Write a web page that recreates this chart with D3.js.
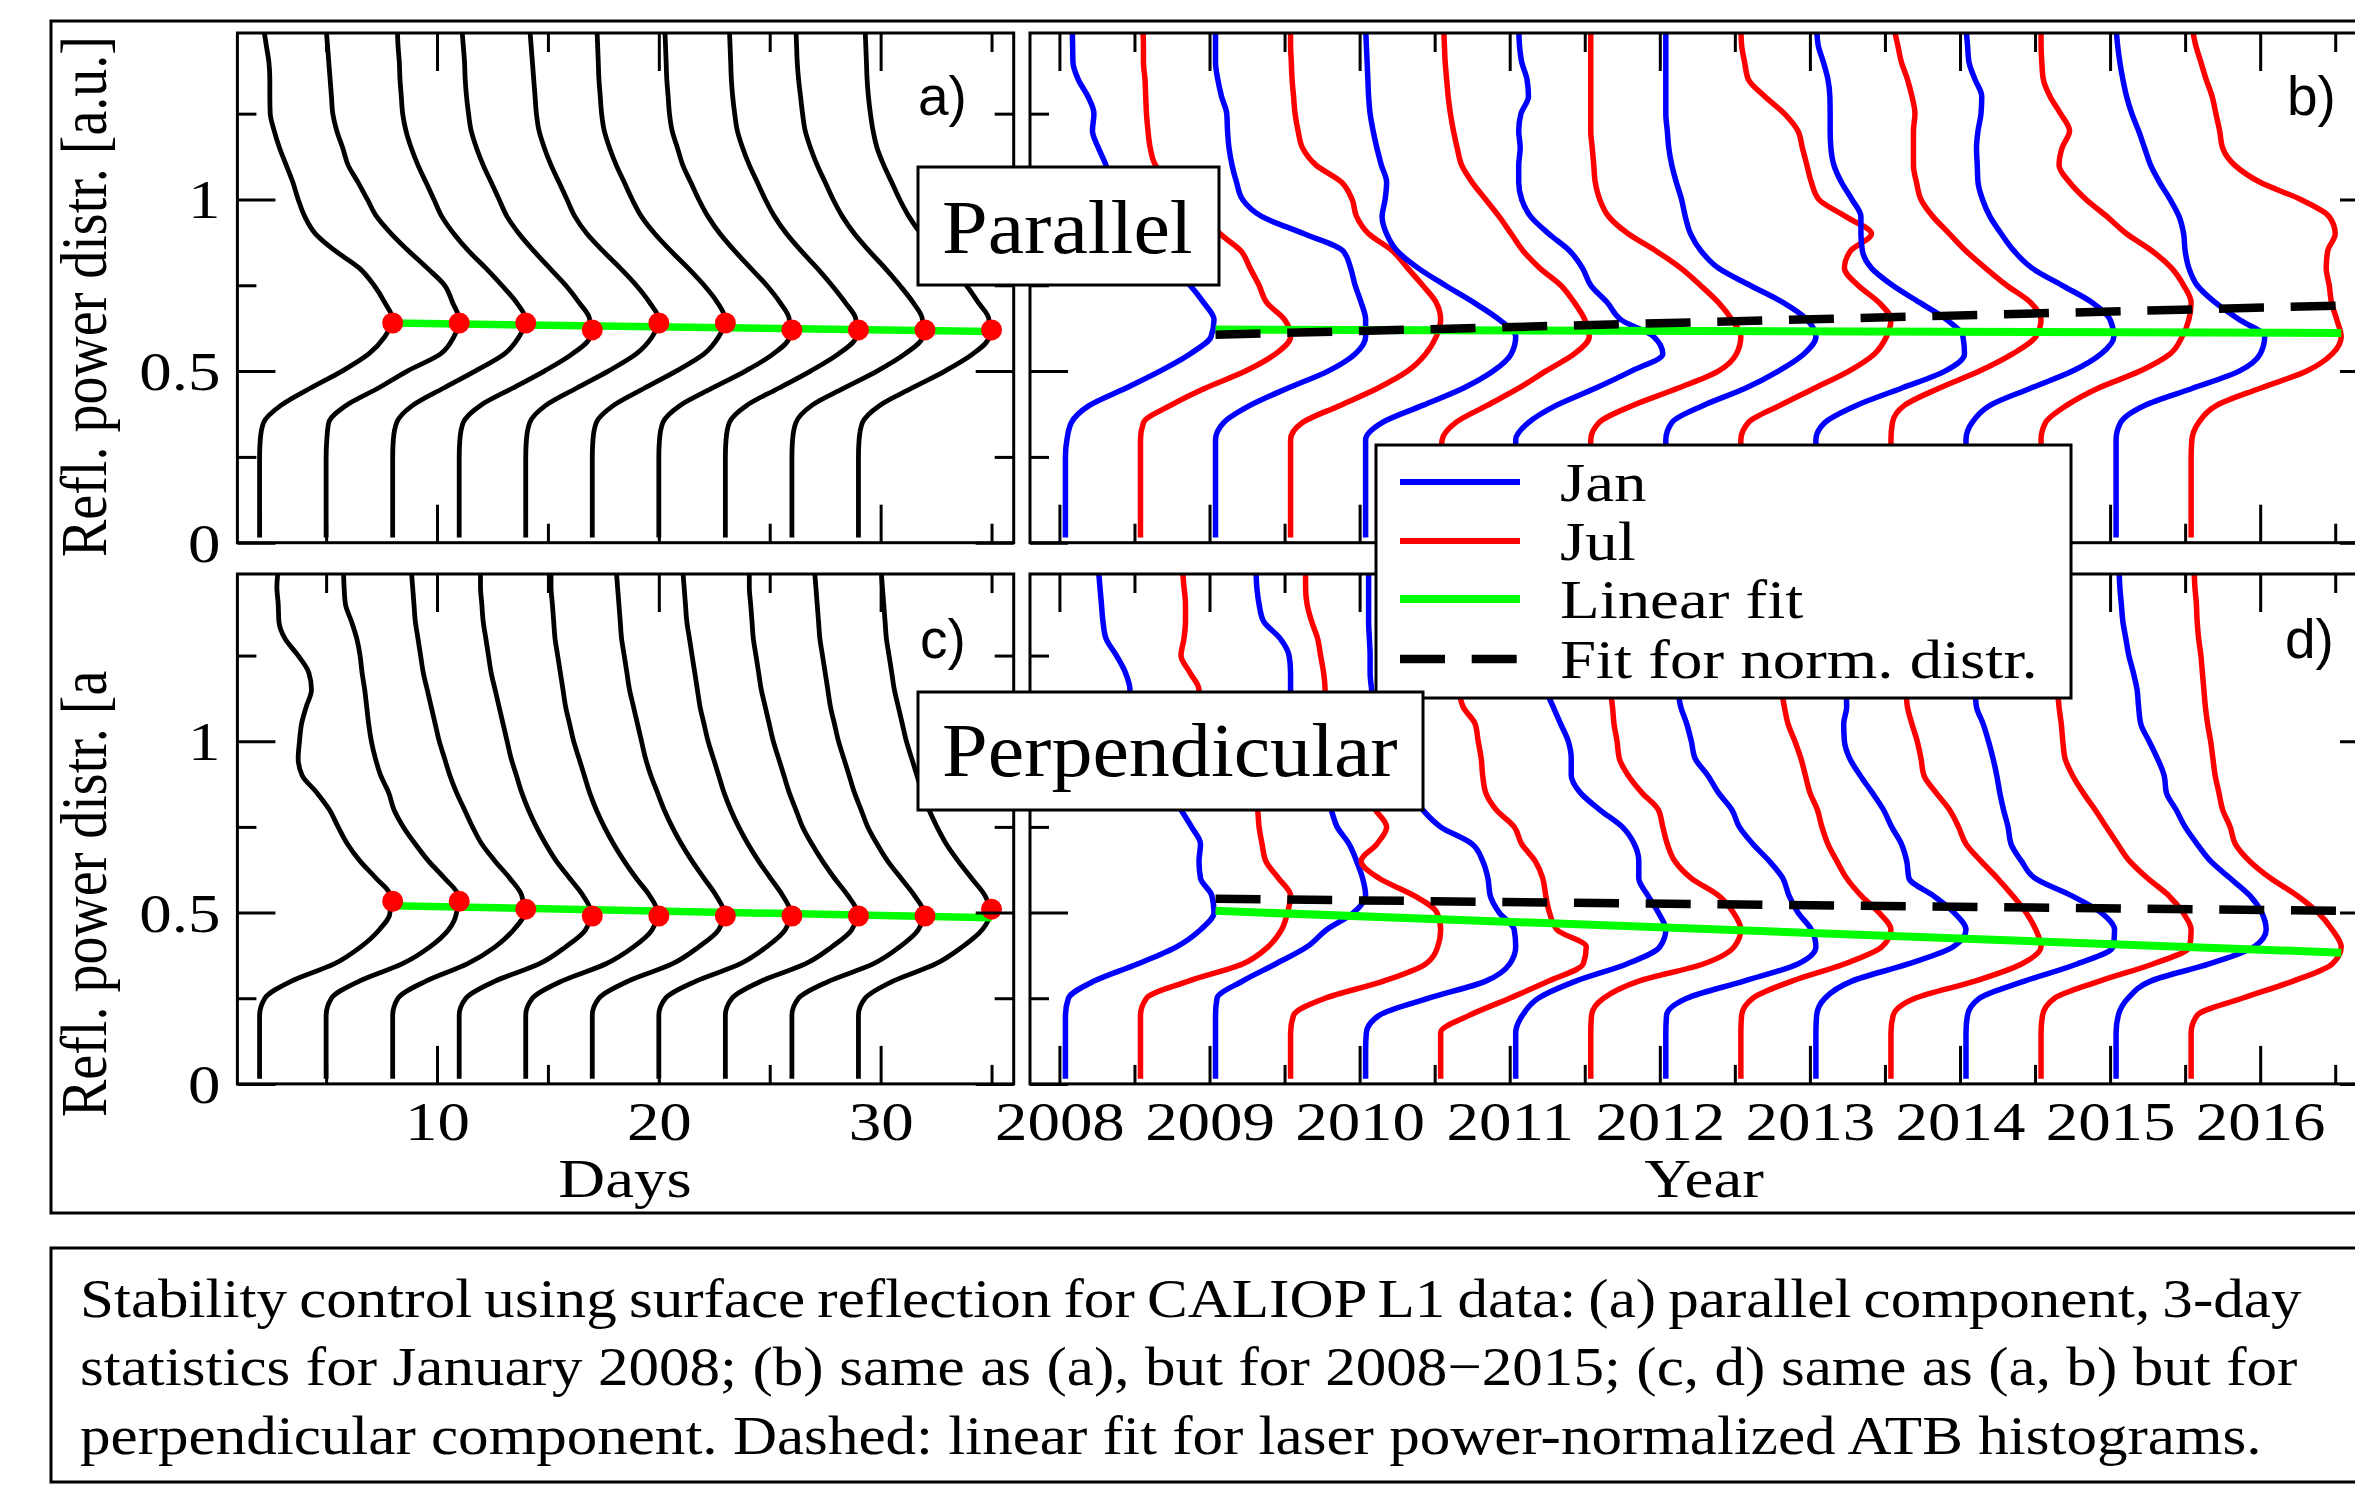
<!DOCTYPE html>
<html>
<head>
<meta charset="utf-8">
<script src="https://cdn.jsdelivr.net/npm/d3@7"></script>
<style>
  html, body { margin: 0; padding: 0; background: #fff; }
  svg { display: block; }
</style>
</head>
<body>
<svg id="fig" width="2355" height="1506"></svg>
<script>
// ---------- data ----------
// reflected-power levels (y) at which every histogram is sampled
const levels = [0.015, 0.05, 0.1, 0.15, 0.2, 0.25, 0.3, 0.35, 0.4, 0.45, 0.5, 0.55, 0.6, 0.65, 0.7, 0.75,
  0.8, 0.85, 0.9, 0.95, 1.0, 1.05, 1.1, 1.15, 1.2, 1.25, 1.3, 1.35, 1.4, 1.45, 1.5];

// 3-day statistics, January 2008: centre day of each window
const windowDays = [2, 5, 8, 11, 14, 17, 20, 23, 26, 29];
// normalised distributions (peak = 1), parallel component
const parallelDays = [
  [0,0,0,0,0,0, 0.005,0.03,0.16,0.38,0.62, 0.82,0.94,1.0,0.94,0.86, 0.75,0.57,0.42,0.34,0.29, 0.25,0.2,0.15,0.11,0.08, 0.077,0.077,0.07,0.05,0.03],
  [0,0,0,0,0,0, 0.005,0.02,0.15,0.39,0.61, 0.86,0.96,1.0,0.95,0.89, 0.76,0.62,0.49,0.38,0.31, 0.24,0.165,0.125,0.08,0.05, 0.04,0.03,0.02,0.01,0],
  [0,0,0,0,0,0, 0.005,0.03,0.15,0.38,0.62, 0.84,0.95,1.0,0.93,0.82, 0.7,0.57,0.46,0.37,0.31, 0.25,0.19,0.14,0.1,0.075, 0.065,0.055,0.05,0.04,0.035],
  [0,0,0,0,0,0, 0.005,0.03,0.16,0.4,0.64, 0.85,0.98,0.98,0.9,0.8, 0.68,0.56,0.45,0.36,0.3, 0.24,0.18,0.13,0.09,0.07, 0.055,0.045,0.04,0.03,0.02],
  [0,0,0,0,0,0, 0.005,0.03,0.15,0.38,0.62, 0.83,0.95,1.0,0.93,0.83, 0.71,0.58,0.46,0.37,0.31, 0.25,0.19,0.14,0.1,0.08, 0.07,0.06,0.05,0.04,0.03],
  [0,0,0,0,0,0, 0.005,0.03,0.16,0.39,0.63, 0.84,0.95,1.0,0.94,0.84, 0.72,0.59,0.47,0.37,0.3, 0.24,0.18,0.13,0.09,0.07, 0.06,0.05,0.045,0.04,0.035],
  [0,0,0,0,0,0, 0.005,0.03,0.16,0.4,0.65, 0.86,0.98,0.98,0.91,0.81, 0.69,0.57,0.46,0.37,0.3, 0.24,0.18,0.14,0.1,0.08, 0.07,0.06,0.055,0.05,0.045],
  [0,0,0,0,0,0, 0.005,0.03,0.16,0.4,0.64, 0.85,0.98,0.98,0.9,0.8, 0.69,0.57,0.46,0.37,0.3, 0.24,0.18,0.13,0.09,0.07, 0.055,0.045,0.04,0.035,0.03],
  [0,0,0,0,0,0, 0.005,0.03,0.15,0.39,0.64, 0.85,0.98,0.98,0.91,0.81, 0.7,0.58,0.47,0.38,0.31, 0.25,0.19,0.14,0.1,0.08, 0.065,0.05,0.04,0.035,0.03],
  [0,0,0,0,0,0, 0.005,0.03,0.16,0.4,0.65, 0.86,0.98,0.98,0.9,0.81, 0.7,0.58,0.47,0.38,0.31, 0.25,0.19,0.14,0.11,0.09, 0.075,0.065,0.06,0.055,0.05]
];
// perpendicular component
const perpDays = [
  [0,0,0,0,0,0.04, 0.24,0.56,0.76,0.9,0.98, 0.98,0.875,0.755,0.66,0.59, 0.525,0.43,0.32,0.29,0.3, 0.315,0.35,0.39,0.37,0.29, 0.19,0.145,0.14,0.13,0.14],
  [0,0,0,0,0,0.04, 0.25,0.57,0.78,0.92,0.98, 0.99,0.89,0.77,0.67,0.58, 0.51,0.47,0.41,0.37,0.34, 0.32,0.305,0.29,0.27,0.255, 0.23,0.19,0.145,0.135,0.13],
  [0,0,0,0,0,0.04, 0.25,0.56,0.77,0.91,0.99, 0.97,0.88,0.77,0.67,0.6, 0.54,0.48,0.43,0.39,0.35, 0.32,0.29,0.26,0.23,0.21, 0.19,0.17,0.16,0.15,0.14],
  [0,0,0,0,0,0.05, 0.27,0.6,0.8,0.95,0.99, 0.93,0.83,0.73,0.65,0.58, 0.52,0.47,0.43,0.39,0.36, 0.33,0.3,0.27,0.24,0.22, 0.2,0.18,0.17,0.16,0.16],
  [0,0,0,0,0,0.05, 0.27,0.6,0.81,0.95,0.99, 0.93,0.83,0.74,0.66,0.59, 0.53,0.48,0.44,0.4,0.36, 0.33,0.3,0.28,0.26,0.24, 0.22,0.21,0.2,0.19,0.19],
  [0,0,0,0,0,0.05, 0.27,0.6,0.8,0.95,0.99, 0.93,0.84,0.75,0.67,0.6, 0.54,0.49,0.44,0.4,0.37, 0.34,0.31,0.28,0.26,0.24, 0.22,0.21,0.2,0.19,0.18],
  [0,0,0,0,0,0.05, 0.28,0.61,0.81,0.95,0.99, 0.93,0.84,0.75,0.67,0.6, 0.54,0.49,0.45,0.41,0.37, 0.34,0.31,0.29,0.27,0.25, 0.23,0.21,0.2,0.19,0.18],
  [0,0,0,0,0,0.05, 0.27,0.6,0.8,0.95,0.99, 0.92,0.82,0.73,0.65,0.58, 0.53,0.48,0.44,0.4,0.36, 0.33,0.3,0.27,0.25,0.23, 0.21,0.2,0.19,0.18,0.18],
  [0,0,0,0,0,0.05, 0.28,0.61,0.81,0.95,0.99, 0.92,0.82,0.72,0.64,0.57, 0.52,0.47,0.43,0.39,0.35, 0.32,0.29,0.27,0.25,0.23, 0.21,0.2,0.19,0.18,0.17],
  [0,0,0,0,0,0.05, 0.26,0.58,0.78,0.93,0.99, 0.95,0.85,0.75,0.66,0.59, 0.53,0.48,0.44,0.4,0.36, 0.33,0.3,0.27,0.25,0.23, 0.21,0.2,0.19,0.18,0.17]
];
// most frequent value of each window, and its linear fit
const peakDays = [8, 11, 14, 17, 20, 23, 26, 29, 32, 35];
const peakParallelDays = [0.64, 0.64, 0.64, 0.62, 0.64, 0.64, 0.62, 0.62, 0.62, 0.62];
const peakPerpDays = [0.533, 0.533, 0.51, 0.49, 0.49, 0.49, 0.49, 0.49, 0.49, 0.51];
const fitDays = [8, 35];
const fitParallelDays = [0.64, 0.615];
const fitPerpDays = [0.52, 0.485];

// monthly statistics 2008-2015 (mid-month positions)
const monthCentres = [2008.04, 2008.54, 2009.04, 2009.54, 2010.04, 2010.54, 2011.04, 2011.54,
  2012.04, 2012.54, 2013.04, 2013.54, 2014.04, 2014.54, 2015.04, 2015.54];
const monthNames = ["Jan", "Jul", "Jan", "Jul", "Jan", "Jul", "Jan", "Jul",
  "Jan", "Jul", "Jan", "Jul", "Jan", "Jul", "Jan", "Jul"];
const parallelYears = [
  [0,0,0,0,0,0, 0.01,0.04,0.16,0.4,0.63, 0.83,0.97,0.99,0.92,0.83, 0.72,0.62,0.52,0.43,0.36, 0.3,0.27,0.22,0.18,0.19, 0.15,0.085,0.05,0.048,0.045],
  [0,0,0,0,0,0, 0,0.02,0.2,0.43,0.7, 0.9,1.0,0.96,0.84,0.79, 0.73,0.67,0.53,0.43,0.33, 0.2,0.1,0.065,0.05,0.04, 0.035,0.03,0.02,0.02,0.015],
  [0,0,0,0,0,0, 0,0.055,0.23,0.48,0.75, 0.93,1.0,1.0,0.97,0.93, 0.9,0.85,0.59,0.31,0.18, 0.14,0.11,0.09,0.08,0.075, 0.04,0.015,0,0,0],
  [0,0,0,0,0,0, 0,0.08,0.33,0.58,0.78, 0.9,0.97,1.0,0.97,0.88, 0.78,0.68,0.52,0.44,0.41, 0.34,0.17,0.08,0.05,0.03, 0.02,0.01,0.005,0,0],
  [0,0,0,0,0,0, 0,0.11,0.38,0.65,0.85, 0.97,1.0,0.89,0.72,0.53, 0.35,0.21,0.14,0.11,0.13, 0.14,0.105,0.075,0.05,0.03, 0.02,0.015,0.01,0.005,0],
  [0,0,0,0,0,0, 0.01,0.1,0.31,0.52,0.7, 0.89,0.99,0.96,0.89,0.8, 0.66,0.55,0.47,0.39,0.3, 0.21,0.14,0.11,0.085,0.065, 0.05,0.04,0.03,0.025,0.02],
  [0,0,0,0,0,0, 0,0.085,0.27,0.53,0.77, 0.98,0.92,0.7,0.61,0.5, 0.445,0.36,0.22,0.1,0.04, 0.02,0.02,0.03,0.02,0.035, 0.085,0.075,0.04,0.025,0.02],
  [0,0,0,0,0,0, 0,0.055,0.28,0.58,0.85, 0.97,1.0,0.94,0.85,0.73, 0.6,0.435,0.25,0.12,0.06, 0.03,0.02,0.01,0,0, 0,0,0,0,0],
  [0,0,0,0,0,0, 0,0.04,0.25,0.53,0.75, 0.92,1.0,0.94,0.78,0.56, 0.35,0.235,0.165,0.13,0.105, 0.07,0.04,0.02,0.01,0, 0,0,0,0,0],
  [0,0,0,0,0,0, 0,0.05,0.26,0.49,0.72, 0.89,0.97,1.0,0.92,0.78, 0.69,0.73,0.87,0.7,0.52, 0.47,0.44,0.41,0.38,0.29, 0.16,0.05,0.025,0.005,0],
  [0,0,0,0,0,0, 0,0.06,0.27,0.57,0.86, 0.99,0.98,0.87,0.69,0.51, 0.37,0.31,0.3,0.3,0.24, 0.17,0.12,0.1,0.095,0.095, 0.093,0.08,0.05,0.015,0.005],
  [0,0,0,0,0,0, 0,0.01,0.09,0.32,0.59, 0.81,0.965,1.0,0.93,0.77, 0.63,0.5,0.39,0.28,0.2, 0.17,0.15,0.15,0.15,0.16, 0.14,0.11,0.07,0.045,0.02],
  [0,0,0,0,0,0, 0,0.04,0.16,0.43,0.71, 0.9,0.985,0.96,0.84,0.64, 0.44,0.32,0.235,0.16,0.11, 0.08,0.075,0.07,0.08,0.1, 0.105,0.06,0.02,0.01,0],
  [0,0,0,0,0,0, 0,0.03,0.17,0.38,0.66, 0.86,0.94,0.985,1.0,0.95, 0.87,0.74,0.57,0.44,0.3, 0.19,0.12,0.14,0.19,0.13, 0.06,0.015,0.005,0,0],
  [0,0,0,0,0,0, 0,0.03,0.19,0.51,0.82, 0.96,0.99,0.82,0.66,0.54, 0.485,0.46,0.45,0.42,0.36, 0.29,0.23,0.19,0.15,0.105, 0.07,0.045,0.025,0.01,0],
  [0,0,0,0,0,0, 0.005,0.05,0.17,0.46,0.77, 0.94,1.0,0.97,0.935,0.92, 0.9,0.91,0.96,0.92,0.73, 0.46,0.29,0.21,0.19,0.165, 0.14,0.1,0.065,0.03,0.007]
];
const perpYears = [
  [0,0,0,0,0,0.02, 0.19,0.48,0.74,0.9,0.99, 0.975,0.9,0.89,0.9,0.84, 0.77,0.7,0.62,0.55,0.49, 0.44,0.41,0.43,0.4,0.34, 0.27,0.25,0.24,0.23,0.22],
  [0,0,0,0,0,0.04, 0.32,0.68,0.85,0.94,0.98, 1.0,0.92,0.835,0.81,0.79, 0.78,0.72,0.65,0.55,0.46, 0.4,0.37,0.39,0.33,0.27, 0.29,0.3,0.3,0.29,0.28],
  [0,0,0,0,0,0.01, 0.18,0.4,0.61,0.74,0.92, 1.0,0.98,0.94,0.89,0.81, 0.77,0.72,0.66,0.6,0.56, 0.53,0.51,0.5,0.5,0.49, 0.43,0.32,0.29,0.275,0.27],
  [0,0,0,0,0.02,0.23, 0.62,0.9,0.98,1.0,0.975, 0.82,0.59,0.47,0.575,0.64, 0.565,0.5,0.42,0.35,0.3, 0.26,0.23,0.23,0.22,0.2, 0.18,0.14,0.11,0.1,0.1],
  [0,0,0,0.005,0.09,0.42, 0.8,0.96,1.0,0.99,0.89, 0.83,0.815,0.78,0.71,0.5, 0.38,0.3,0.22,0.16,0.12, 0.08,0.05,0.04,0.03,0.03, 0.025,0.02,0.02,0.02,0.02],
  [0,0,0,0,0.19,0.46, 0.72,0.95,0.97,0.775,0.725, 0.7,0.68,0.63,0.54,0.49, 0.37,0.3,0.28,0.27,0.25, 0.23,0.15,0.12,0.1,0.08, 0.06,0.05,0.04,0.03,0.03],
  [0,0,0,0,0.045,0.15, 0.4,0.74,0.96,1.0,0.95, 0.88,0.82,0.82,0.79,0.71, 0.56,0.43,0.37,0.37,0.35, 0.3,0.25,0.2,0.16,0.13, 0.1,0.08,0.07,0.06,0.05],
  [0,0,0,0,0.005,0.085, 0.32,0.75,0.955,1.0,0.95, 0.85,0.67,0.56,0.51,0.48, 0.45,0.34,0.25,0.19,0.175, 0.155,0.145,0.13,0.12,0.11, 0.09,0.08,0.07,0.06,0.05],
  [0,0,0,0,0.005,0.14, 0.52,0.88,1.0,0.97,0.88, 0.82,0.78,0.69,0.58,0.49, 0.44,0.35,0.28,0.195,0.17, 0.14,0.1,0.08,0.07,0.06, 0.05,0.04,0.04,0.03,0.03],
  [0,0,0,0,0.005,0.08, 0.34,0.69,0.94,1.0,0.92, 0.8,0.705,0.64,0.58,0.54, 0.51,0.46,0.43,0.4,0.36, 0.315,0.29,0.27,0.25,0.22, 0.2,0.18,0.16,0.15,0.14],
  [0,0,0,0,0.005,0.06, 0.24,0.615,0.915,1.0,0.92, 0.78,0.62,0.605,0.57,0.505, 0.45,0.375,0.295,0.225,0.19, 0.185,0.205,0.2,0.18,0.16, 0.14,0.12,0.1,0.09,0.08],
  [0,0,0,0,0.015,0.16, 0.56,0.87,1.0,0.965,0.9, 0.81,0.71,0.6,0.5,0.45, 0.39,0.3,0.22,0.2,0.175, 0.14,0.11,0.1,0.09,0.08, 0.07,0.06,0.05,0.05,0.04],
  [0,0,0,0,0.01,0.09, 0.39,0.74,0.98,0.99,0.9, 0.7,0.46,0.37,0.3,0.28, 0.25,0.225,0.205,0.18,0.15, 0.115,0.07,0.06,0.05,0.04, 0.04,0.03,0.03,0.03,0.03],
  [0,0,0,0,0.01,0.09, 0.39,0.745,0.99,1.0,0.945, 0.85,0.71,0.59,0.51,0.435, 0.36,0.28,0.21,0.16,0.145, 0.135,0.12,0.11,0.1,0.09, 0.08,0.07,0.06,0.05,0.05],
  [0,0,0,0,0.015,0.08, 0.23,0.62,0.92,1.0,0.97, 0.89,0.76,0.63,0.54,0.46, 0.4,0.335,0.32,0.275,0.22, 0.165,0.15,0.14,0.115,0.085, 0.065,0.045,0.035,0.025,0.02],
  [0,0,0,0,0.04,0.34, 0.68,0.94,1.0,0.94,0.845, 0.705,0.53,0.39,0.295,0.26, 0.21,0.185,0.16,0.145,0.13, 0.11,0.095,0.085,0.075,0.065, 0.05,0.04,0.035,0.025,0.02]
];
// linear fits through the peaks (solid) and for laser-power-normalised histograms (dashed)
const fitYears = [2009.04, 2016.54];
const fitParallelYears = [0.621, 0.611];
const normParallelYears = [0.606, 0.691];
const fitPerpYears = [0.505, 0.383];
const normPerpYears = [0.54, 0.505];

// axis ticks
const dayMajor = [10, 20, 30];
const dayMinor = [5, 15, 25, 35];
const yearMajor = [2008, 2009, 2010, 2011, 2012, 2013, 2014, 2015, 2016];
const yearMinor = [2008.5, 2009.5, 2010.5, 2011.5, 2012.5, 2013.5, 2014.5, 2015.5, 2016.5];
const valueMajor = [0, 0.5, 1];
const valueMinor = [0.25, 0.75, 1.25];

const legendLabels = ["Jan", "Jul", "Linear fit", "Fit for norm. distr."];
const captionLines = [
  "Stability control using surface reflection for CALIOP L1 data: (a) parallel component, 3-day",
  "statistics for January 2008; (b) same as (a), but for 2008\u22122015; (c, d) same as (a, b) but for",
  "perpendicular component. Dashed: linear fit for laser power-normalized ATB histograms."
];

// ---------- drawing ----------
const serif = "'Liberation Serif', 'Times New Roman', Times, serif";
const sans = "'Liberation Sans', Arial, Helvetica, sans-serif";
const K = 1.18;           // horizontal stretch of the figure lettering
const BLUE = "#0000ff", RED = "#ff0000", GREEN = "#00ff00";

const svg = d3.select("#fig");

const xDay = d3.scaleLinear().domain([1, 36]).range([237.4, 1013.7]);
const xYear = d3.scaleLinear().domain([2007.804, 2016.785]).range([1030, 2378]);
const yTop = d3.scaleLinear().domain([0, 1.485]).range([542.7, 33]);
const yBot = d3.scaleLinear().domain([0, 1.488]).range([1083.9, 574]);

function stretched(parent, x, y, str, o = {}) {
  let tr = `translate(${x},${y}) scale(${o.k ?? K},1)`;
  if (o.rotate) tr += ` rotate(${o.rotate})`;
  return parent.append("text")
    .attr("transform", tr)
    .attr("font-family", o.family ?? serif)
    .attr("font-size", o.size ?? 55)
    .attr("text-anchor", o.anchor ?? "start")
    .attr("fill", "#000")
    .text(str);
}

// figure frame and caption frame
svg.append("rect").attr("x", 51).attr("y", 21).attr("width", 2360).attr("height", 1192)
  .attr("fill", "none").attr("stroke", "#000").attr("stroke-width", 3);
svg.append("rect").attr("x", 51).attr("y", 1248).attr("width", 2360).attr("height", 234)
  .attr("fill", "none").attr("stroke", "#000").attr("stroke-width", 3);

function panel(name, x, y, opt) {
  const g = svg.append("g").attr("class", "panel-" + name);
  const [x0, x1] = x.range();
  const [yb, yt] = y.range();
  g.append("clipPath").attr("id", "clip-" + name).append("rect")
    .attr("x", x0).attr("y", yt).attr("width", x1 - x0).attr("height", yb - yt);
  const plot = g.append("g").attr("clip-path", `url(#clip-${name})`);
  const axes = g.append("g");

  const tidy = s => {
    s.select(".domain").remove();
    s.selectAll("line").attr("stroke", "#000").attr("stroke-width", 3);
  };
  const add = (axis, tr) => axes.append("g").attr("transform", tr).call(axis).call(tidy);

  // x ticks, bottom and top, pointing inwards
  const xb = d3.axisBottom(x).tickValues(opt.xMajor).tickSize(-38)
    .tickFormat(opt.xLabels ? d3.format("d") : "");
  const gxb = add(xb, `translate(0,${yb})`);
  if (opt.xLabels) {
    gxb.selectAll("text").attr("dy", null).attr("y", 56)
      .attr("font-family", serif).attr("font-size", 55).attr("fill", "#000")
      .attr("transform", `scale(${K},1)`);
  }
  add(d3.axisBottom(x).tickValues(opt.xMinor).tickSize(-19).tickFormat(""), `translate(0,${yb})`);
  add(d3.axisTop(x).tickValues(opt.xMajor).tickSize(-38).tickFormat(""), `translate(0,${yt})`);
  add(d3.axisTop(x).tickValues(opt.xMinor).tickSize(-19).tickFormat(""), `translate(0,${yt})`);

  // y ticks, left and right
  const yl = d3.axisLeft(y).tickValues(valueMajor).tickSize(-38)
    .tickFormat(opt.yLabels ? (d => String(d)) : "");
  const gyl = add(yl, `translate(${x0},0)`);
  if (opt.yLabels) {
    gyl.selectAll("text").attr("dy", null).attr("x", -17 / K).attr("y", 18.5)
      .attr("font-family", serif).attr("font-size", 55).attr("fill", "#000")
      .attr("text-anchor", "end").attr("transform", `scale(${K},1)`);
  }
  add(d3.axisLeft(y).tickValues(valueMinor).tickSize(-19).tickFormat(""), `translate(${x0},0)`);
  add(d3.axisRight(y).tickValues(valueMajor).tickSize(-38).tickFormat(""), `translate(${x1},0)`);
  add(d3.axisRight(y).tickValues(valueMinor).tickSize(-19).tickFormat(""), `translate(${x1},0)`);

  g.append("rect").attr("x", x0).attr("y", yt).attr("width", x1 - x0).attr("height", yb - yt)
    .attr("fill", "none").attr("stroke", "#000").attr("stroke-width", 3);
  return plot;
}

const curve = d3.line().curve(d3.curveMonotoneY);

function distributions(plot, x, y, centres, amp, dists, colourOf, width) {
  plot.append("g").selectAll("path").data(dists).join("path")
    .attr("d", (dist, i) => curve(dist.map((d, j) => [x(centres[i] + amp * d), y(levels[j])]).reverse()))
    .attr("fill", "none")
    .attr("stroke", (d, i) => colourOf(i))
    .attr("stroke-width", width)
    .attr("stroke-linejoin", "round");
}

function fitLine(plot, x, y, xs, ys, style) {
  const p = plot.append("path")
    .attr("d", d3.line()(xs.map((d, i) => [x(d), y(ys[i])])))
    .attr("fill", "none").attr("stroke", style.colour).attr("stroke-width", style.width);
  if (style.dash) p.attr("stroke-dasharray", style.dash);
}

const solidFit = { colour: GREEN, width: 7.5 };
const dashedFit = { colour: "#000", width: 8.5, dash: "45 26.7" };

// (a) parallel, days
const pa = panel("a", xDay, yTop, { xMajor: dayMajor, xMinor: dayMinor, xLabels: false, yLabels: true });
distributions(pa, xDay, yTop, windowDays, 6, parallelDays, () => "#000", 4.8);
fitLine(pa, xDay, yTop, fitDays, fitParallelDays, solidFit);
pa.append("g").selectAll("circle").data(peakDays).join("circle")
  .attr("cx", d => xDay(d)).attr("cy", (d, i) => yTop(peakParallelDays[i])).attr("r", 10.5).attr("fill", RED);

// (b) parallel, years
const pb = panel("b", xYear, yTop, { xMajor: yearMajor, xMinor: yearMinor, xLabels: false, yLabels: false });
distributions(pb, xYear, yTop, monthCentres, 1, parallelYears, i => monthNames[i] === "Jan" ? BLUE : RED, 5.5);
fitLine(pb, xYear, yTop, fitYears, fitParallelYears, { colour: GREEN, width: 8 });
fitLine(pb, xYear, yTop, fitYears, normParallelYears, dashedFit);

// (c) perpendicular, days
const pc = panel("c", xDay, yBot, { xMajor: dayMajor, xMinor: dayMinor, xLabels: true, yLabels: true });
distributions(pc, xDay, yBot, windowDays, 6, perpDays, () => "#000", 4.8);
fitLine(pc, xDay, yBot, fitDays, fitPerpDays, solidFit);
pc.append("g").selectAll("circle").data(peakDays).join("circle")
  .attr("cx", d => xDay(d)).attr("cy", (d, i) => yBot(peakPerpDays[i])).attr("r", 10.5).attr("fill", RED);

// (d) perpendicular, years
const pd = panel("d", xYear, yBot, { xMajor: yearMajor, xMinor: yearMinor, xLabels: true, yLabels: false });
distributions(pd, xYear, yBot, monthCentres, 1, perpYears, i => monthNames[i] === "Jan" ? BLUE : RED, 5.5);
fitLine(pd, xYear, yBot, fitYears, fitPerpYears, { colour: GREEN, width: 8 });
fitLine(pd, xYear, yBot, fitYears, normPerpYears, dashedFit);

// axis titles
const titles = svg.append("g");
stretched(titles, 106, 557, "Refl. power distr. [a.u.]", { rotate: -90, size: 56 });
stretched(titles, 106, 1117, "Refl. power distr. [a", { rotate: -90, size: 56 });
stretched(titles, 625, 1197, "Days", { anchor: "middle" });
stretched(titles, 1704, 1197, "Year", { anchor: "middle" });

// panel letters
const letters = svg.append("g");
[["a)", 918, 115], ["b)", 2287, 115], ["c)", 920, 658], ["d)", 2285, 658]].forEach(([s, x, y]) =>
  stretched(letters, x, y, s, { family: sans, size: 55, k: 1 }));

// legend
const lg = svg.append("g");
lg.append("rect").attr("x", 1376).attr("y", 445).attr("width", 695).attr("height", 253)
  .attr("fill", "#fff").attr("stroke", "#000").attr("stroke-width", 3);
const legendY = [482, 541, 599, 659];
const legendStyles = [
  { colour: BLUE, width: 6 },
  { colour: RED, width: 6 },
  { colour: GREEN, width: 8 },
  dashedFit
];
legendLabels.forEach((label, i) => {
  const s = legendStyles[i];
  const l = lg.append("line").attr("x1", 1400).attr("x2", 1520).attr("y1", legendY[i]).attr("y2", legendY[i])
    .attr("stroke", s.colour).attr("stroke-width", s.width);
  if (s.dash) l.attr("stroke-dasharray", s.dash);
  stretched(lg, 1560, legendY[i] + 19, label);
});

// component boxes
function tagBox(x, y, w, h, str, tx, ty) {
  const g = svg.append("g");
  g.append("rect").attr("x", x).attr("y", y).attr("width", w).attr("height", h)
    .attr("fill", "#fff").attr("stroke", "#000").attr("stroke-width", 3);
  stretched(g, tx, ty, str, { size: 76, k: 1.08 });
}
tagBox(918, 167, 301, 118, "Parallel", 942, 253);
tagBox(918, 692, 505, 118, "Perpendicular", 942, 776);

// caption: justified paragraph, last line set at natural width
const cap = svg.append("g");
const capBaselines = [1317, 1385, 1454];
const capWidths = [2222, 2218, null];
const capTexts = captionLines.map(s => cap.append("text")
  .attr("font-family", serif).attr("font-size", 55).attr("fill", "#000").text(s));
const kc = 2182 / capTexts[2].node().getComputedTextLength();
capTexts.forEach((t, i) => {
  if (capWidths[i]) {
    const natural = t.node().getComputedTextLength() * kc;
    const gaps = captionLines[i].split(" ").length - 1;
    t.attr("word-spacing", (capWidths[i] - natural) / kc / gaps);
  }
  t.attr("transform", `translate(80,${capBaselines[i]}) scale(${kc},1)`);
});
</script>
</body>
</html>
